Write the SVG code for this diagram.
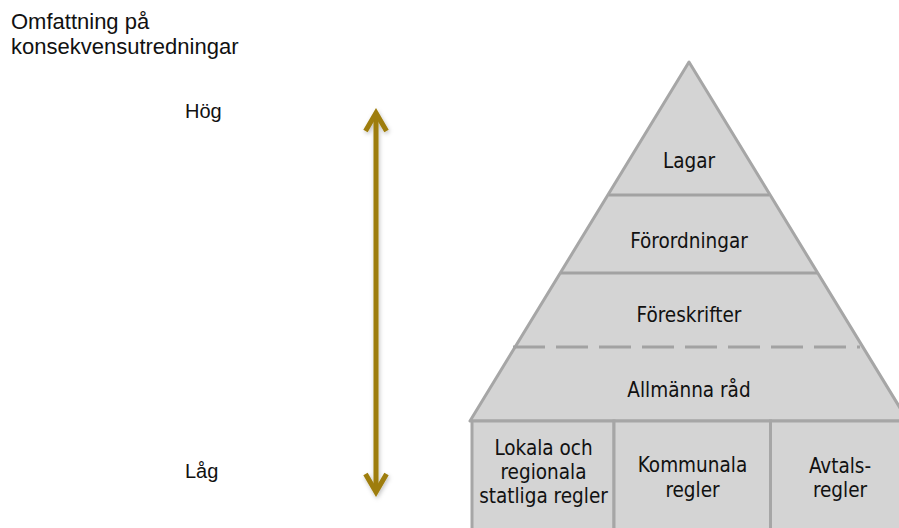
<svg xmlns="http://www.w3.org/2000/svg" width="899" height="528" viewBox="0 0 899 528">
<defs>
<style>
.lbl{font-family:"Liberation Sans",Arial,sans-serif;fill:#111;}
.pt{font-family:"DejaVu Sans Condensed","DejaVu Sans",sans-serif;font-stretch:condensed;font-size:20.5px;fill:#111;text-anchor:middle;}
.shape{fill:#d4d4d4;stroke:#a6a6a6;stroke-width:3;}
.div{stroke:#a2a2a2;stroke-width:3;fill:none;}
.arr{stroke:#9e7d0a;stroke-width:5;fill:none;}
</style>
<filter id="sh" x="-50%" y="-10%" width="200%" height="120%">
<feDropShadow dx="1" dy="2" stdDeviation="2" flood-color="#000" flood-opacity="0.25"/>
</filter>
</defs>
<g id="labels">
<text class="lbl" x="11" y="29" font-size="22">Omfattning på</text>
<text class="lbl" x="11" y="54" font-size="22">konsekvensutredningar</text>
<text class="lbl" x="185" y="117.5" font-size="20">Hög</text>
<text class="lbl" x="185" y="477.5" font-size="20">Låg</text>
</g>
<g id="connectors">
<g id="scale-arrow" filter="url(#sh)">
<line class="arr" x1="376" y1="115" x2="376" y2="490"/>
<polyline class="arr" points="365.5,131 376,113 386.5,131" stroke-linejoin="miter"/>
<polyline class="arr" points="365.5,474 376,492 386.5,474" stroke-linejoin="miter"/>
</g>
</g>
<g id="pyramid">
<polygon class="shape" points="689,62 470,421 908,421" stroke-linejoin="round"/>
<line class="div" x1="609" y1="195" x2="769" y2="195"/>
<line class="div" x1="561" y1="273" x2="817" y2="273"/>
<line class="div" x1="513" y1="347" x2="860" y2="347" stroke-dasharray="32 11"/>
</g>
<g id="node-lagar"><text class="pt" x="689" y="168">Lagar</text></g>
<g id="node-forordningar"><text class="pt" x="689" y="248">Förordningar</text></g>
<g id="node-foreskrifter"><text class="pt" x="689" y="321.5">Föreskrifter</text></g>
<g id="node-allmanna-rad"><text class="pt" x="689" y="396.5">Allmänna råd</text></g>
<g id="node-lokala">
<rect class="shape" x="472" y="421" width="142" height="120"/>
<text class="pt" x="543.5" y="455">Lokala och</text>
<text class="pt" x="543.5" y="479">regionala</text>
<text class="pt" x="543.5" y="503">statliga regler</text>
</g>
<g id="node-kommunala">
<rect class="shape" x="614" y="421" width="156.5" height="120"/>
<text class="pt" x="692.5" y="471.5">Kommunala</text>
<text class="pt" x="692.5" y="496.5">regler</text>
</g>
<g id="node-avtals">
<rect class="shape" x="770.5" y="421" width="140" height="120"/>
<text class="pt" x="840" y="472.5">Avtals-</text>
<text class="pt" x="840" y="497">regler</text>
</g>
</svg>
